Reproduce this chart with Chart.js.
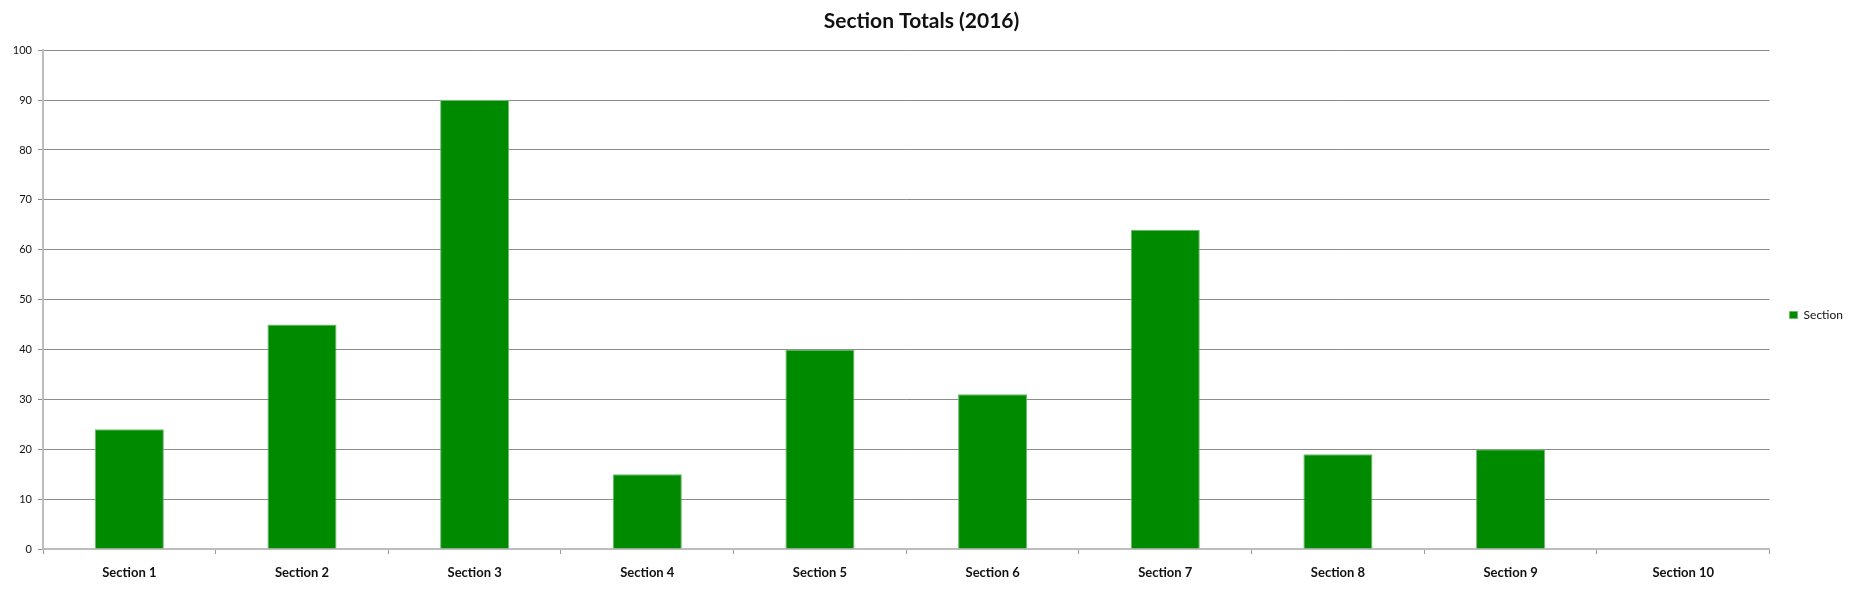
<!DOCTYPE html>
<html>
<head>
<meta charset="utf-8">
<script src="https://cdn.jsdelivr.net/npm/chart.js@4/dist/chart.umd.min.js"></script>
<style>
  html, body { margin: 0; padding: 0; background: #fff; }
  #wrap { width: 1849px; height: 594px; position: relative; }
</style>
</head>
<body>
<div id="wrap"><canvas id="grafica"></canvas></div>
<script>
const secciones = ["Section 1", "Section 2", "Section 3", "Section 4", "Section 5",
                   "Section 6", "Section 7", "Section 8", "Section 9", "Section 10"];
const totales = [24, 45, 90, 15, 40, 31, 64, 19, 20, 0];
const ticksY = [0, 10, 20, 30, 40, 50, 60, 70, 80, 90, 100];

const fuente = "Lato, 'Open Sans', sans-serif";

// corre la leyenda un poco a la derecha y abajo, como en el original
const moverLeyenda = {
  id: "moverLeyenda",
  afterLayout(chart) {
    const l = chart.legend;
    if (!l) return;
    l.left += 10; l.right += 10;
    l.top += 18; l.bottom += 18;
  }
};

new Chart(document.getElementById("grafica"), {
  type: "bar",
  data: {
    labels: secciones,
    datasets: [{
      label: "Section",
      data: totales,
      backgroundColor: "#008a00",
      borderColor: "#6fb86f",
      borderWidth: 1,
      categoryPercentage: 1,
      barPercentage: 0.4
    }]
  },
  options: {
    responsive: true,
    maintainAspectRatio: false,
    animation: false,
    layout: { padding: { left: 0, top: 0, bottom: 0, right: 6 } },
    plugins: {
      title: {
        display: true,
        text: "Section Totals (2016)",
        color: "#111",
        font: { family: fuente, size: 21, weight: "bold", lineHeight: 1.2 },
        padding: { top: 9, bottom: 16 }
      },
      legend: {
        position: "right",
        labels: {
          boxWidth: 8,
          boxHeight: 7,
          padding: 10,
          color: "#111",
          font: { family: fuente, size: 12 }
        }
      },
      tooltip: { enabled: false }
    },
    scales: {
      x: {
        offset: true,
        grid: { offset: true, drawOnChartArea: false, drawTicks: true, tickLength: 5, color: "#999" },
        border: { color: "#bdbdbd", width: 2 },
        ticks: { color: "#111", padding: 11, font: { family: fuente, size: 13, weight: "bold" } },
        afterFit: s => { s.height = 45; }
      },
      y: {
        min: 0,
        max: 100,
        afterBuildTicks: s => { s.ticks = ticksY.map(v => ({ value: v })); },
        grid: { color: "#8c8c8c", tickLength: 5, lineWidth: 1 },
        border: { color: "#bdbdbd", width: 2 },
        ticks: { color: "#111", padding: 6, font: { family: fuente, size: 11 } },
        afterFit: s => { s.width = 43; }
      }
    }
  },
  plugins: [moverLeyenda]
});
</script>
</body>
</html>
